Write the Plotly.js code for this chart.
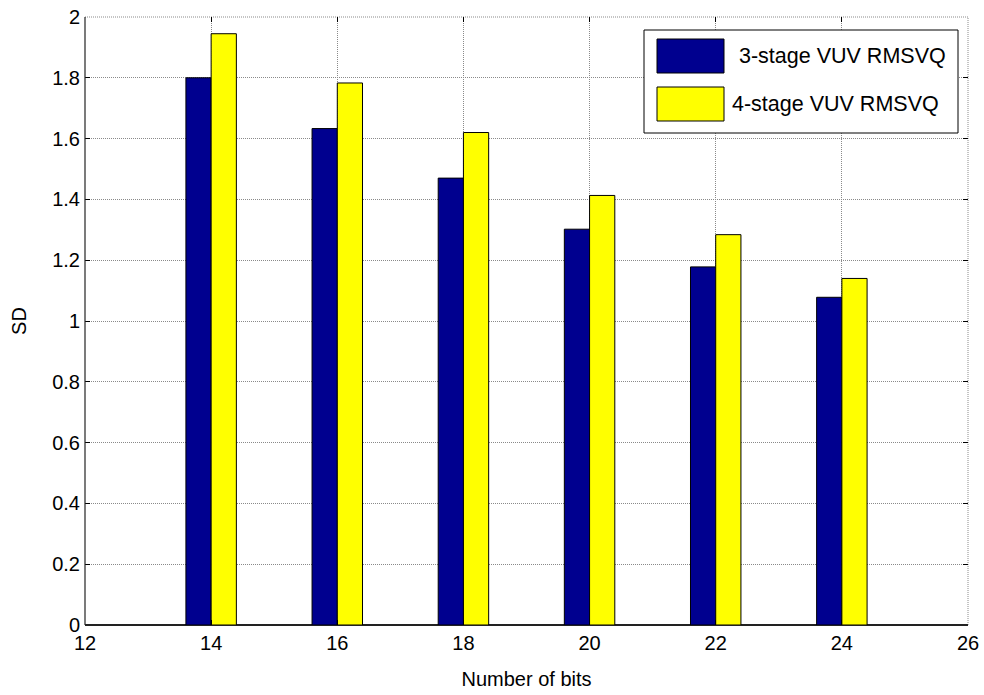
<!DOCTYPE html>
<html>
<head>
<meta charset="utf-8">
<script src="https://cdn.plot.ly/plotly-3.0.1.min.js"></script>
<style>html,body{margin:0;padding:0;background:#fff;}#chart{width:984px;height:695px;}</style>
</head>
<body>
<div id="chart"></div>
<script>
const bits = [14, 16, 18, 20, 22, 24];
const sd3stage = [1.80, 1.633, 1.47, 1.302, 1.178, 1.078];
const sd4stage = [1.945, 1.783, 1.62, 1.413, 1.284, 1.14];
const seriesNames = ['3-stage VUV RMSVQ', '4-stage VUV RMSVQ'];
const seriesColors = ['#00008F', '#FFFF00'];
const xTicks = [12, 14, 16, 18, 20, 22, 24, 26];
const yTicks = [0, 0.2, 0.4, 0.6, 0.8, 1, 1.2, 1.4, 1.6, 1.8, 2];
const yTickText = ['0', '0.2', '0.4', '0.6', '0.8', '1', '1.2', '1.4', '1.6', '1.8', '2'];

const W = 984, H = 695;
const L = 85, R = 16, T = 17, B = 70;
const pw = W - L - R, ph = H - T - B;
const px = v => (v - L) / pw;
const py = v => (H - B - v) / ph;

const traces = [sd3stage, sd4stage].map((vals, i) => ({
  type: 'bar', x: bits, y: vals, name: seriesNames[i],
  marker: {color: seriesColors[i], line: {color: '#000', width: 1}},
  hoverinfo: 'skip'
}));

const font = {family: 'Liberation Sans, Arial, sans-serif', size: 20, color: '#000'};
const gridDash = '1px,1px';
const gridColor = '#8a8a8a';

const shapes = [
  {type: 'line', xref: 'paper', yref: 'paper', x0: 0, x1: 0, y0: 0, y1: 1, line: {color: '#222', width: 1.2}},
  {type: 'line', xref: 'paper', yref: 'paper', x0: 0, x1: 1, y0: 1, y1: 1, line: {color: gridColor, width: 1, dash: gridDash}, layer: 'below'},
  {type: 'line', xref: 'paper', yref: 'paper', x0: 1, x1: 1, y0: 0, y1: 1, line: {color: gridColor, width: 1, dash: gridDash}, layer: 'below'},
  {type: 'rect', xref: 'paper', yref: 'paper', x0: px(644), x1: px(958), y0: py(133), y1: py(30),
   fillcolor: '#fff', line: {color: '#000', width: 1}, layer: 'above'}
];
const annotations = [];
const swY = [[39, 73], [87, 121]];
const txX = [737, 730];
seriesNames.forEach((n, i) => {
  shapes.push({type: 'rect', xref: 'paper', yref: 'paper', x0: px(657), x1: px(724),
    y0: py(swY[i][1]), y1: py(swY[i][0]), fillcolor: seriesColors[i],
    line: {color: '#000', width: 1}, layer: 'above'});
  annotations.push({xref: 'paper', yref: 'paper', x: px(txX[i]), y: py((swY[i][0] + swY[i][1]) / 2),
    text: n, showarrow: false, xanchor: 'left', yanchor: 'middle', font: {...font, size: 21.5}});
});

const layout = {
  width: W, height: H,
  margin: {l: L, r: R, t: T, b: B, pad: 0},
  paper_bgcolor: '#fff', plot_bgcolor: '#fff',
  font: font,
  showlegend: false,
  barmode: 'group', bargap: 0.6, bargroupgap: 0,
  xaxis: {
    range: [12, 26], tickvals: xTicks, ticktext: xTicks.map(String),
    ticks: 'inside', ticklen: 5, tickcolor: '#000', mirror: 'ticks',
    showline: false, showgrid: true, gridcolor: gridColor, griddash: gridDash, gridwidth: 1,
    zeroline: false, tickfont: font, ticklabelstandoff: 4,
    title: {text: 'Number of bits', font: font, standoff: 18}
  },
  yaxis: {
    range: [0, 2], tickvals: yTicks, ticktext: yTickText,
    ticks: 'inside', ticklen: 5, tickcolor: '#000', mirror: 'ticks',
    showline: false, showgrid: true, gridcolor: gridColor, griddash: gridDash, gridwidth: 1,
    zeroline: true, zerolinecolor: '#222', zerolinewidth: 1.2, tickfont: font, ticklabelstandoff: 4,
    title: {text: 'SD', font: font, standoff: 20}
  },
  shapes: shapes,
  annotations: annotations
};

Plotly.newPlot('chart', traces, layout, {staticPlot: true, displayModeBar: false});
</script>
</body>
</html>
